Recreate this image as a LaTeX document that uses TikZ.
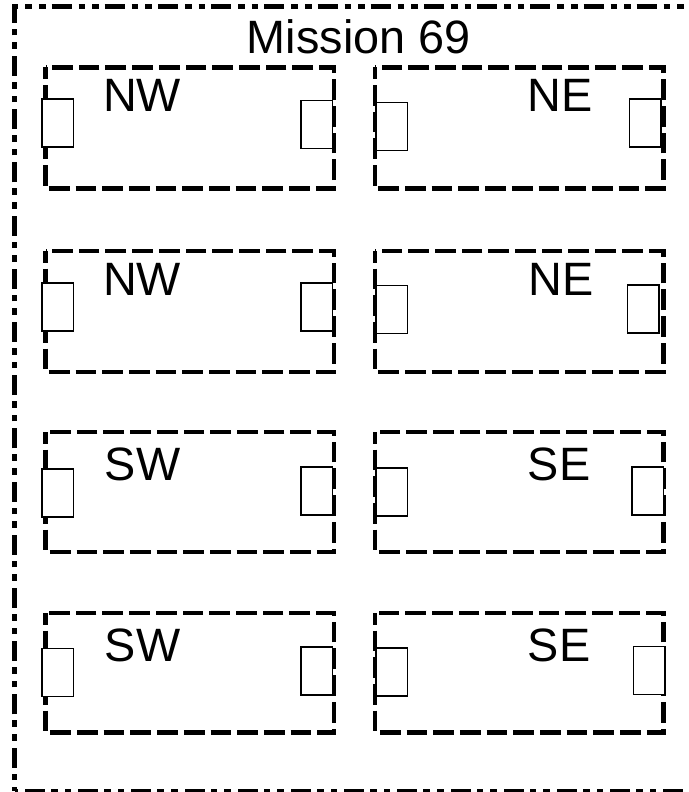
\documentclass[tikz,border=0pt]{standalone}
\usepackage{fontspec}
\setmainfont{Liberation Sans}
\usetikzlibrary{positioning}

\tikzset{
	frame/.style={line width=4.3pt, dash pattern=on 20pt off 7pt on 6.6pt off 7pt on 6.6pt off 6pt, dash phase=29.7pt},
	zone/.style={line width=4.3pt, dash pattern=on 20.7pt off 6pt, dash phase=9.2pt},
	port/.style={draw, fill=white, line width=1.5pt, minimum width=31.5pt, minimum height=48pt, inner sep=0pt, outer sep=0pt, anchor=north west},
	tag/.style={font=\fontsize{46.8}{50}\selectfont, inner sep=0pt, anchor=base}
}

\begin{document}
\begin{tikzpicture}[x=1pt,y=-1pt]
	\useasboundingbox (0,0) rectangle (688,792);
	\clip (0,0) rectangle (688,792);
	\draw[frame] (14.5,791) rectangle (720,6.5);
	\node[tag] (title) at (358.8,53.3) {Mission 69};

	\draw[zone] (45.5,67.5) rectangle (334,188.5);
	\draw[zone] (375,67.5) rectangle (663.5,188.5);
	\draw[zone] (45.5,251) rectangle (334,372);
	\draw[zone] (375,251) rectangle (663.5,372);
	\draw[zone] (45.5,432) rectangle (334,552);
	\draw[zone] (375,432) rectangle (663.5,552);
	\draw[zone] (45.5,613) rectangle (334,732.5);
	\draw[zone] (375,613) rectangle (663.5,732.5);

	\node[port] (p1a) at (42,99) {};
	\node[port] (p1b) at (301,100.7) {};
	\node[port] (p1c) at (376,102.7) {};
	\node[port] (p1d) at (629.3,99) {};
	\node[port] (p2a) at (42,283) {};
	\node[port] (p2b) at (301,283) {};
	\node[port] (p2c) at (376,285.7) {};
	\node[port] (p2d) at (627.3,285) {};
	\node[port] (p3a) at (42,469) {};
	\node[port] (p3b) at (301,467) {};
	\node[port] (p3c) at (376,468) {};
	\node[port] (p3d) at (632,467) {};
	\node[port] (p4a) at (42,648.3) {};
	\node[port] (p4b) at (301,647) {};
	\node[port] (p4c) at (376,648) {};
	\node[port] (p4d) at (633.3,646.7) {};

	\node[tag] (nw1) at (142,111.7) {NW};
	\node[tag] (ne1) at (560,111.7) {NE};
	\node[tag] (nw2) at (142,295) {NW};
	\node[tag] (ne2) at (561,295) {NE};
	\node[tag] (sw3) at (142.5,480) {SW};
	\node[tag] (se3) at (559,480) {SE};
	\node[tag] (sw4) at (142.5,661) {SW};
	\node[tag] (se4) at (559,661) {SE};
\end{tikzpicture}
\end{document}
